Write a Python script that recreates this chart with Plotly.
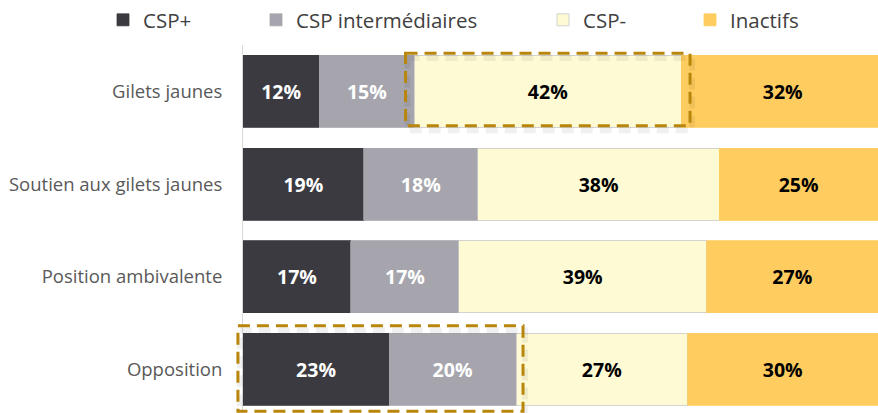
import plotly.graph_objects as go

categories = ["Gilets jaunes", "Soutien aux gilets jaunes", "Position ambivalente", "Opposition"]
series_names = ["CSP+", "CSP intermédiaires", "CSP-", "Inactifs"]
csp_plus = [12, 19, 17, 23]
csp_inter = [15, 18, 17, 20]
csp_moins = [42, 38, 39, 27]
inactifs = [32, 25, 27, 30]

colors = ["#3B3A40", "#A6A5AD", "#FEFAD4", "#FFCD5F"]
text_colors = ["white", "white", "black", "black"]
line_colors = ["#3B3A40", "#A6A5AD", "#C8C8C8", "#FFCD5F"]
all_values = [csp_plus, csp_inter, csp_moins, inactifs]
legend_ids = ["legend2", "legend3", "legend4", "legend5"]
# left edge of each legend entry (pixels in the 878-wide page)
legend_px = [103, 256, 543, 690]
X_MAX = 100

FONT = "Open Sans"
fig = go.Figure()
for i, (name, vals) in enumerate(zip(series_names, all_values)):
    fig.add_trace(go.Bar(
        y=categories, x=vals, name=name, orientation="h",
        marker=dict(color=colors[i], line=dict(color=line_colors[i], width=0.8)),
        text=[f"{v}%" for v in vals], textposition="inside",
        insidetextanchor="middle", constraintext="none",
        textfont=dict(family=FONT, size=19.5, color=text_colors[i], weight="bold"),
        legend=legend_ids[i], cliponaxis=True, showlegend=True,
    ))

layout_legends = {}
for i, lid in enumerate(legend_ids):
    layout_legends[lid] = dict(
        xref="container", yref="container",
        x=legend_px[i] / 878, xanchor="left", y=1 - 20 / 413, yanchor="middle",
        orientation="h", font=dict(family=FONT, size=20.5, color="#404040"),
        itemwidth=30, bgcolor="rgba(0,0,0,0)", tracegroupgap=0,
    )

fig.update_layout(
    width=878, height=413,
    margin=dict(l=243, r=0, t=45, b=0, autoexpand=False),
    barmode="stack", bargap=0.223,
    plot_bgcolor="white", paper_bgcolor="white",
    xaxis=dict(range=[0, X_MAX], visible=False, fixedrange=True),
    yaxis=dict(range=[3.47, -0.5], showgrid=False, ticks="", automargin=False,
               showline=True, linecolor="#D9D9D9", linewidth=1,
               ticklabelstandoff=16, fixedrange=True,
               tickfont=dict(family=FONT, size=18.5, color="#595959")),
    font=dict(family=FONT),
    **layout_legends,
)

# Highlight boxes derived from data (x in paper fraction so they are not clipped)
gold = "#B8860B"
shadow = "rgba(0,0,0,0.06)"

def add_box(x0, x1, r, pad_l, pad_r, pad_t, pad_b):
    for dx, dy, col, w in [(0.3, 0.05, shadow, 6), (0, 0, gold, 3)]:
        fig.add_shape(type="rect", xref="paper", yref="y",
                      x0=(x0 - pad_l + dx) / X_MAX, x1=(x1 + pad_r + dx) / X_MAX,
                      y0=r - pad_t + dy, y1=r + pad_b + dy,
                      line=dict(color=col, width=w, dash="12px,7px"), layer="above")

# Box 1: CSP- segment of "Gilets jaunes"
r = 0
start = csp_plus[r] + csp_inter[r]
add_box(start, start + csp_moins[r], r, 1.4, 1.4, 0.41, 0.37)
# Box 2: CSP+ and CSP intermédiaires of "Opposition"
r = 3
add_box(0, csp_plus[r] + csp_inter[r], r, 0.8, 1.1, 0.47, 0.45)

fig.write_html("out.html", config={"displayModeBar": False},
               post_script="document.body.style.margin='0';")
